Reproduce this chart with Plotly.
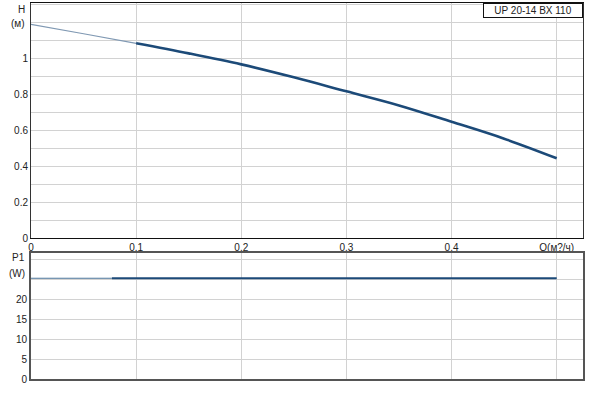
import plotly.graph_objects as go
from plotly.subplots import make_subplots

# pump curve
q = [0.0, 0.05, 0.1, 0.15, 0.2, 0.25, 0.3, 0.35, 0.4, 0.45, 0.5]
head = [1.187, 1.135, 1.082, 1.026, 0.965, 0.893, 0.815, 0.737, 0.646, 0.552, 0.443]

q_p = [0.0, 0.077, 0.5]
power = [25.2, 25.2, 25.2]

h_ticks = [0, 0.1, 0.2, 0.3, 0.4, 0.5, 0.6, 0.7, 0.8, 0.9, 1.0, 1.1, 1.2, 1.3]
h_text = ['0', '', '0.2', '', '0.4', '', '0.6', '', '0.8', '', '1', '', '', '']
p_ticks = [0, 5, 10, 15, 20, 25, 30]
p_text = ['0', '5', '10', '15', '20', '', '']
q_ticks = [0, 0.1, 0.2, 0.3, 0.4, 0.5]
q_text = ['0', '0.1', '0.2', '0.3', '0.4', 'Q(м?/ч)']

pump_name = 'UP 20-14 BX 110'

line_col = '#1c4a78'
light_col = '#8099b3'
grid_col = '#d2d2d2'
font = dict(family='Liberation Sans, Arial', size=10, color='#222222')

fig = make_subplots(rows=2, cols=1, vertical_spacing=0.04)

# light start of the curve, then the dark operating part
fig.add_trace(go.Scatter(x=q[:3], y=head[:3], mode='lines',
                         line=dict(color=light_col, width=1.2, shape='spline')), row=1, col=1)
fig.add_trace(go.Scatter(x=q[2:], y=head[2:], mode='lines',
                         line=dict(color=line_col, width=2.6, shape='spline')), row=1, col=1)
fig.add_trace(go.Scatter(x=q_p[:2], y=power[:2], mode='lines',
                         line=dict(color='#4a7399', width=1.2)), row=2, col=1)
fig.add_trace(go.Scatter(x=q_p[1:], y=power[1:], mode='lines',
                         line=dict(color=line_col, width=2.2)), row=2, col=1)

fig.update_xaxes(range=[0, 0.525], tickvals=q_ticks, showgrid=True, gridcolor=grid_col,
                 gridwidth=1, zeroline=False, showline=True, mirror=True, ticks='',
                 tickfont=font, fixedrange=True, automargin=False)
fig.update_xaxes(ticktext=q_text, linecolor='#111111', linewidth=1, row=1, col=1)
fig.update_xaxes(showticklabels=False, linecolor='#555555', linewidth=2, row=2, col=1)

fig.update_yaxes(range=[0, 1.306], tickvals=h_ticks, ticktext=h_text, row=1, col=1,
                 linecolor='#333333', linewidth=1)
fig.update_yaxes(range=[0, 31.5], tickvals=p_ticks, ticktext=p_text, row=2, col=1,
                 linecolor='#555555', linewidth=2)
fig.update_yaxes(showgrid=True, gridcolor=grid_col, gridwidth=1, zeroline=False,
                 showline=True, mirror=True, ticks='', tickfont=font, fixedrange=True,
                 automargin=False)

fig.update_layout(
    width=600, height=414,
    margin=dict(l=31, r=17, t=3, b=35, autoexpand=False),
    paper_bgcolor='white', plot_bgcolor='white',
    showlegend=False,
    font=font,
)
fig.layout.yaxis.domain = [0.375, 1.0]
fig.layout.yaxis2.domain = [0.0, 0.335]

fig.add_annotation(text=pump_name, xref='paper', yref='paper', x=1.0, y=1.0,
                   xanchor='right', yanchor='top', showarrow=False,
                   bordercolor='#111111', borderwidth=1, borderpad=1,
                   bgcolor='white', width=96, align='center', font=font)
for txt, yv in [('H', 1.27), ('(м)', 1.19)]:
    fig.add_annotation(text=txt, xref='paper', yref='y', x=0, y=yv, xanchor='right',
                       xshift=-4, showarrow=False, font=font)
for txt, yv in [('P1', 30.5), ('(W)', 26.5)]:
    fig.add_annotation(text=txt, xref='paper', yref='y2', x=0, y=yv, xanchor='right',
                       xshift=-4, showarrow=False, font=font)

# page body has an 8px default margin; drop it so the chart sits at the corner
fig.write_html('out.html', config={'displayModeBar': False},
               post_script="document.body.style.margin='0';")
